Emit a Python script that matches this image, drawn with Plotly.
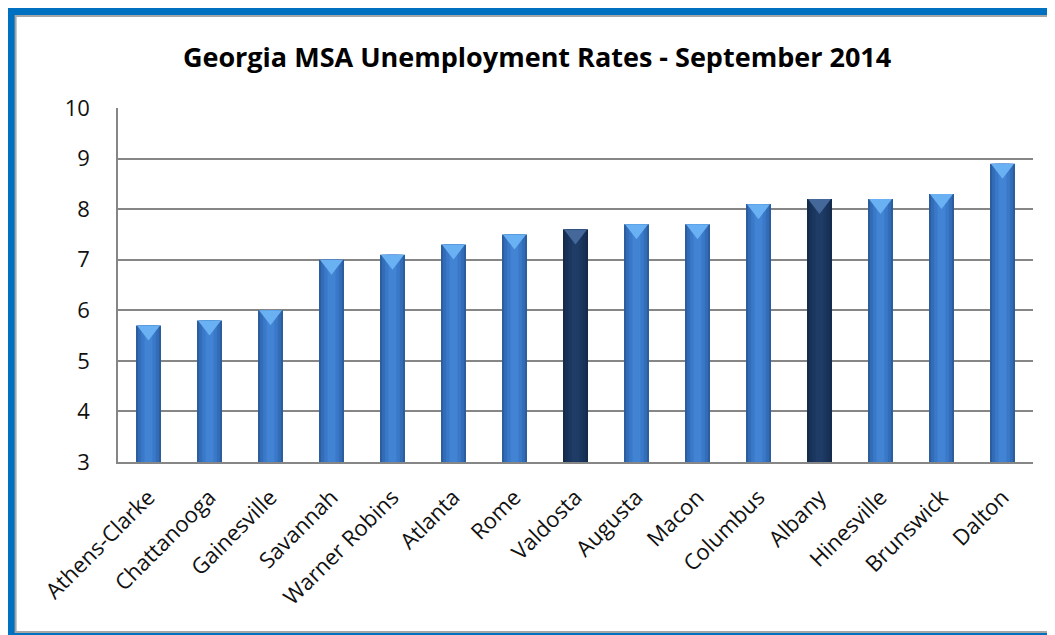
import plotly.graph_objects as go

cities = ["Athens-Clarke", "Chattanooga", "Gainesville", "Savannah", "Warner Robins",
          "Atlanta", "Rome", "Valdosta", "Augusta", "Macon", "Columbus", "Albany",
          "Hinesville", "Brunswick", "Dalton"]
rates = [5.7, 5.8, 6.0, 7.0, 7.1, 7.3, 7.5, 7.6, 7.7, 7.7, 8.1, 8.2, 8.2, 8.3, 8.9]
highlight = ["Valdosta", "Albany"]
y_ticks = [3, 4, 5, 6, 7, 8, 9, 10]
title_text = "Georgia MSA Unemployment Rates - September 2014"

# the page body adds an 8px offset; design in figure coordinates
OFF = 8
W, H = 1055 - OFF, 635 - OFF
L, R, T, B = 117.5 - OFF, 1033.5 - OFF, 108 - OFF, 462 - OFF

def pick(normal, dark):
    return [dark if c in highlight else normal for c in cities]

fig = go.Figure()
base_y = y_ticks[0]
heights = [r - base_y for r in rates]

# cylinder-like shading via overlaid bars of decreasing width
layers = [
    (0.41, "#2C5E9F", "#142B4B"),
    (0.34, "#336DB8", "#183156"),
    (0.24, "#3A79CA", "#1B375F"),
    (0.13, "#4283D3", "#1F3C67"),
]
for w, cn, cd in layers:
    fig.add_trace(go.Bar(
        x=cities, y=heights, base=base_y, width=w,
        marker=dict(color=pick(cn, cd), line=dict(width=0)),
        hoverinfo="skip", showlegend=False))

# bevel cap (chevron) on top of each bar
fig.add_trace(go.Scatter(
    x=cities, y=[r - 0.1 for r in rates], mode="markers",
    marker=dict(symbol="triangle-down", size=20, color=pick("#69B1F2", "#45689A"),
                line=dict(width=0)),
    hoverinfo="skip", showlegend=False))

def px2x(px):
    return (px - OFF - L) / (R - L)

def py2y(py):
    return (B - (py - OFF)) / (B - T)

shapes = [
    dict(type="rect", xref="paper", yref="paper", layer="below",
         x0=px2x(6), x1=px2x(1080), y0=py2y(6), y1=py2y(660),
         fillcolor="#0070C0", line=dict(width=0)),
    dict(type="rect", xref="paper", yref="paper", layer="below",
         x0=px2x(15), x1=px2x(1080), y0=py2y(16), y1=py2y(632),
         fillcolor="white", line=dict(color="#A6A6A6", width=2)),
]

fig.update_layout(
    width=W, height=H,
    margin=dict(l=L, r=W - R, t=T, b=H - B, pad=0),
    paper_bgcolor="white", plot_bgcolor="white",
    barmode="overlay",
    shapes=shapes,
    title=dict(text="<b>" + title_text + "</b>", x=px2x(537), xref="paper",
               xanchor="center", y=1 - (58 - OFF) / H, yanchor="middle",
               font=dict(family="Open Sans", size=27, color="#000000")),
    font=dict(family="Open Sans", color="#111111"),
    xaxis=dict(showgrid=False, showline=True, linecolor="#868686", linewidth=1.5,
               range=[-0.5, len(cities) - 0.5],
               tickangle=-45, tickfont=dict(size=22, color="#111111"),
               ticks="", ticklabelstandoff=12),
    yaxis=dict(range=[y_ticks[0], y_ticks[-1]], tickvals=y_ticks,
               showgrid=True, gridcolor="#868686", gridwidth=1.5,
               showline=True, linecolor="#868686", linewidth=1.5,
               tickfont=dict(size=22, color="#111111"), ticks="",
               ticklabelstandoff=22, zeroline=False),
)

fig.write_html("out.html")
